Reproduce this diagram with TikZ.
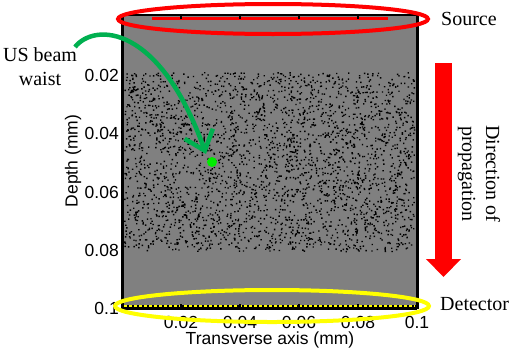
\documentclass[tikz,border=0pt]{standalone}
\usepackage{fontspec}
\setmainfont{Liberation Serif}
\setsansfont{Liberation Sans}
\newfontfamily\labelserif{Liberation Serif}
\usetikzlibrary{arrows.meta,positioning}
\definecolor{plotgray}{RGB}{128,128,128}
\definecolor{beamgreen}{RGB}{0,176,80}
\definecolor{waistgreen}{RGB}{0,235,0}
\definecolor{detyellow}{RGB}{255,255,0}

\begin{document}
\begin{tikzpicture}[
  x=1pt, y=-1pt,
  lbl/.style={font=\labelserif\fontsize{20}{24}\selectfont, align=center, inner sep=0pt},
  ticklbl/.style={font=\sffamily\fontsize{17.5}{20}\selectfont, inner sep=0pt},
  axlbl/.style={font=\sffamily\fontsize{17.5}{20}\selectfont, inner sep=0pt},
  beamarr/.style={-{Straight Barb[length=18pt, width=30pt]}, beamgreen, line width=4.5pt},
  proparr/.style={-{Triangle[length=18pt, width=34pt]}, red, line width=17pt}
]
\useasboundingbox (0,0) rectangle (510,351);

\fill[plotgray] (122,15) rectangle (417,308);
\pgfmathsetseed{4711}
\fill[black] \foreach \i in {1,...,3000}{ ({124+290*rnd},{72+179*rnd}) rectangle ++(1.4,1.4) };

\draw[black, line width=5pt] (122,307) -- (417,307);
\draw[detyellow, line width=2.5pt, dash pattern=on 3pt off 2pt] (124,306) -- (415,306);
\draw[black, line width=1.5pt] (122,15) -- (417,15);
\draw[red, line width=2.5pt] (152,18.5) -- (388,18.5);
\foreach \tx in {181,240,299,358}{
  \draw[black, line width=1.2pt] (\tx,15) -- (\tx,19);
  \draw[black, line width=1.2pt] (\tx,308) -- (\tx,304);
}
\draw[black, line width=3pt] (122,14.3) -- (122,309);
\draw[black, line width=3pt] (417,14.3) -- (417,309);

\node[ticklbl, anchor=east] (y02) at (119,75) {0.02};
\node[ticklbl, anchor=east] (y04) at (119,133.5) {0.04};
\node[ticklbl, anchor=east] (y06) at (119,192) {0.06};
\node[ticklbl, anchor=east] (y08) at (119,250.5) {0.08};
\node[ticklbl, anchor=east] (y10) at (119,308) {0.1};
\node[ticklbl] (x02) at (181,322) {0.02};
\node[ticklbl] (x04) at (240,322) {0.04};
\node[ticklbl] (x06) at (299,322) {0.06};
\node[ticklbl] (x08) at (358,322) {0.08};
\node[ticklbl] (x10) at (417,322) {0.1};
\node[axlbl] (xtitle) at (270,340) {Transverse axis (mm)};
\node[axlbl, rotate=90] (ytitle) at (73,161) {Depth (mm)};

\draw[red, line width=4pt] (273,19) ellipse [x radius=155, y radius=15];
\draw[detyellow, line width=4pt] (272,306) ellipse [x radius=157, y radius=16];

\node[lbl, anchor=west] (source) at (441,19) {Source};
\node[lbl, anchor=west] (detector) at (440,304) {Detector};
\node[lbl, rotate=-90] (propdir) at (479,174) {Direction of\\propagation};
\node[lbl] (waistlbl) at (40,67) {US beam\\waist};

\coordinate (dirtop) at (443.5,63);
\coordinate (dirtip) at (443.5,277);
\draw[proparr] (dirtop) -- (dirtip);

\fill[waistgreen] (212,162) circle (5) coordinate (waist);
\coordinate (beamstart) at (75,47);
\draw[beamarr] (beamstart) .. controls (95,22) and (160,25) .. ([shift={(-6,-8)}]waist);
\end{tikzpicture}
\end{document}
